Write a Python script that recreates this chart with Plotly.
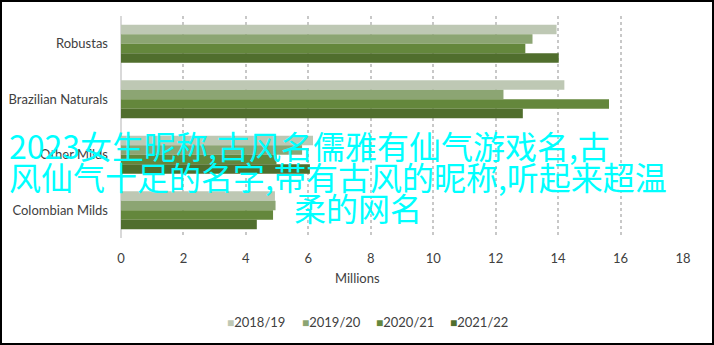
import plotly.graph_objects as go

categories = ["Robustas", "Brazilian Naturals", "Other Milds", "Colombian Milds"]
series_names = ["2018/19", "2019/20", "2020/21", "2021/22"]
v_2018 = [13.95, 14.2, 6.15, 4.93]
v_2019 = [13.18, 12.25, 5.8, 4.95]
v_2020 = [12.95, 15.63, 4.98, 4.87]
v_2021 = [14.02, 12.87, 6.05, 4.35]
colors = ["#bec8b4", "#8ca573", "#64873c", "#506e2d"]
x_ticks = [0, 2, 4, 6, 8, 10, 12, 14, 16, 18]
overlay_lines = [
    "2023女生昵称,古风名儒雅有仙气游戏名,古",
    "风仙气十足的名字,带有古风的昵称,听起来超温",
    "柔的网名",
]

W, H = 714, 345
L, R, T, B = 121, 31, 16, 107
pw, ph = W - L - R, H - T - B

def px_x(p):
    return (p - L) / pw

def px_y(p):
    return (H - B - p) / ph

fig = go.Figure()
values = [v_2018, v_2019, v_2020, v_2021]
for name, vals, col in zip(series_names, values, colors):
    fig.add_trace(go.Bar(
        y=categories, x=vals, name=name, orientation="h",
        marker=dict(color=col, line=dict(width=0)),
        showlegend=False,
    ))

font_main = "Lato, 'Open Sans', sans-serif"
fig.update_layout(
    width=W, height=H,
    margin=dict(l=L, r=R, t=T, b=B, autoexpand=False),
    paper_bgcolor="white", plot_bgcolor="white",
    barmode="group", bargap=0.315, bargroupgap=0,
    font=dict(family=font_main, size=13, color="#404040"),
    xaxis=dict(
        range=[0, 18], tickvals=x_ticks, showgrid=True,
        gridcolor="#c8c8c8", griddash="dot", gridwidth=1.5,
        zeroline=True, zerolinecolor="#d9d9d9", zerolinewidth=1.5,
        showline=False, ticks="", ticklabelstandoff=11,
        tickfont=dict(size=13, color="#404040"),
        automargin=False, fixedrange=True,
    ),
    yaxis=dict(
        categoryorder="array", categoryarray=categories,
        autorange="reversed", showgrid=False, zeroline=False,
        showline=False, ticks="", ticklabelstandoff=12,
        tickfont=dict(size=13, color="#404040"),
        automargin=False,
    ),
    showlegend=False,
)

fig.add_annotation(
    text="Millions", xref="paper", yref="paper",
    x=px_x(357), y=px_y(278), xanchor="center", yanchor="middle",
    showarrow=False, font=dict(size=13, color="#404040", family=font_main),
)

# legend built as text entries (square swatch + series name)
legend_left = [225, 300, 374, 448]
for name, col, lx in zip(series_names, colors, legend_left):
    fig.add_annotation(
        text=f"<span style='color:{col};font-size:12px'>■</span>{name}",
        xref="paper", yref="paper", x=px_x(lx), y=px_y(322),
        xanchor="left", yanchor="middle", showarrow=False,
        font=dict(size=13, color="#404040", family=font_main),
    )

line_pos = [(7, 145), (7, 176), (292, 207)]
for txt, (lx, ly) in zip(overlay_lines, line_pos):
    fig.add_annotation(
        text=txt, xref="paper", yref="paper",
        x=px_x(lx), y=px_y(ly), xanchor="left", yanchor="middle",
        showarrow=False,
        font=dict(size=32, color="#00ffff", family="'Noto Sans CJK SC', sans-serif"),
    )

fig.add_shape(
    type="rect", xref="paper", yref="paper",
    x0=px_x(1), x1=px_x(713), y0=px_y(344), y1=px_y(1),
    line=dict(color="black", width=2), fillcolor="rgba(0,0,0,0)", layer="above",
)

fig.write_html("out.html")
